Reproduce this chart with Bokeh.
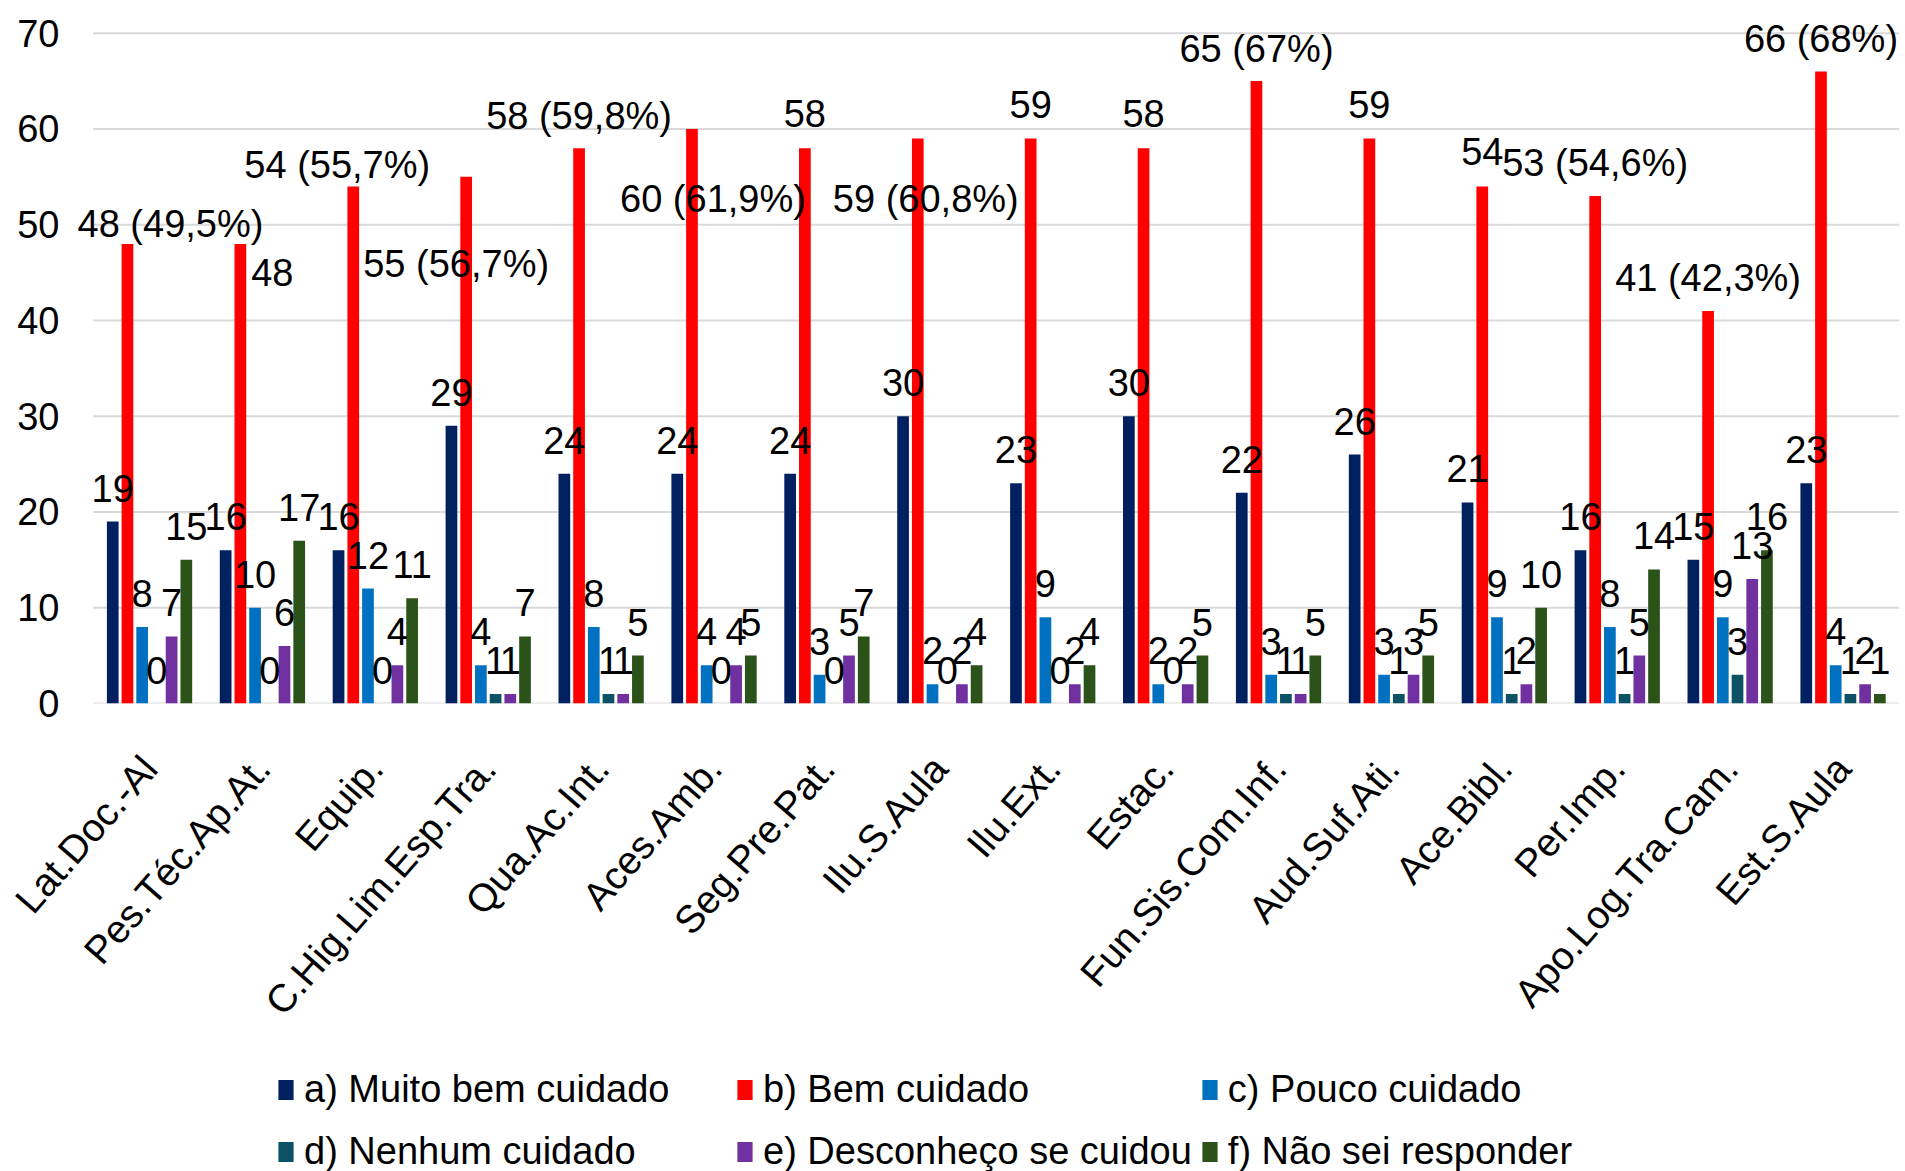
import math
from bokeh.plotting import figure
from bokeh.layouts import column
from bokeh.models import (ColumnDataSource, Legend, LegendItem, Range1d, FixedTicker, LabelSet)
from bokeh.transform import dodge
from bokeh.embed import file_html
from bokeh.resources import INLINE
from bokeh.core.properties import value

categories = ["Lat.Doc.-Al", "Pes.Téc.Ap.At.", "Equip.", "C.Hig.Lim.Esp.Tra.", "Qua.Ac.Int.",
              "Aces.Amb.", "Seg.Pre.Pat.", "Ilu.S.Aula", "Ilu.Ext.", "Estac.",
              "Fun.Sis.Com.Inf.", "Aud.Suf.Ati.", "Ace.Bibl.", "Per.Imp.",
              "Apo.Log.Tra.Cam.", "Est.S.Aula"]

muito_bem = [19, 16, 16, 29, 24, 24, 24, 30, 23, 30, 22, 26, 21, 16, 15, 23]
bem = [48, 48, 54, 55, 58, 60, 58, 59, 59, 58, 65, 59, 54, 53, 41, 66]
pouco = [8, 10, 12, 4, 8, 4, 3, 2, 9, 2, 3, 3, 9, 8, 9, 4]
nenhum = [0, 0, 0, 1, 1, 0, 0, 0, 0, 0, 1, 1, 1, 1, 3, 1]
desconheco = [7, 6, 4, 1, 1, 4, 5, 2, 2, 2, 1, 3, 2, 5, 13, 2]
nao_sei = [15, 17, 11, 7, 5, 5, 7, 4, 4, 5, 5, 5, 10, 14, 16, 1]

bem_labels = ["48 (49,5%)", "48", "54 (55,7%)", "55 (56,7%)", "58 (59,8%)", "60 (61,9%)",
              "58", "59 (60,8%)", "59", "58", "65 (67%)", "59", "54", "53 (54,6%)",
              "41 (42,3%)", "66 (68%)"]

y_ticks = [0, 10, 20, 30, 40, 50, 60, 70]

series_names = ["a) Muito bem cuidado", "b) Bem cuidado", "c) Pouco cuidado",
                "d) Nenhum cuidado", "e) Desconheço se cuidou", "f) Não sei responder"]

# styling: screen-pixel offsets of the hand-placed labels of series b (x right, y up)
bem_label_dx = [43, 32, -16, -10, 0, 21, 0, 8, 0, 0, 0, 0, 0, 0, 0, 0]
bem_label_up = [7, -42, 8, -100, 19, -83, 21, -73, 21, 21, 19, 21, 21, 20, 20, 20]
colors = ["#002060", "#FF0000", "#0070C0", "#0C5166", "#7030A0", "#2A5219"]
FONT = "Liberation Sans"
FS = "38px"

values_list = [muito_bem, bem, pouco, nenhum, desconheco, nao_sei]
keys = ["a", "b", "c", "d", "e", "f"]

n_cat = len(categories)
positions = [i + 0.5 for i in range(n_cat)]   # centre of each category slot

data = {"pos": positions, "cat": categories}
for k, vals in zip(keys, values_list):
    data[k] = vals
    data[k + "_lbl"] = [str(v) for v in vals]
data["b_lbl"] = bem_labels
data["b_dx"] = bem_label_dx
data["b_up"] = bem_label_up
source = ColumnDataSource(data)

p = figure(width=1905, height=1040, x_range=Range1d(-0.2, n_cat), y_range=Range1d(0, 73.42),
           output_backend="svg", toolbar_location=None,
           min_border_left=70, min_border_right=6, min_border_top=0, min_border_bottom=332)

# horizontal gridlines over the category span
p.segment(x0=0, x1=n_cat, y0=y_ticks, y1=y_ticks, line_color="#D9D9D9", line_width=2)

pitch = 0.1303
bw = 0.1037
renderers = []
for i, k in enumerate(keys):
    off = (i - 2.5) * pitch
    r = p.vbar(x=dodge("pos", off), top=k, width=bw, source=source,
               fill_color=colors[i], line_color=None)
    renderers.append(r)

for i, k in enumerate(keys):
    off = (i - 2.5) * pitch
    if k == "b":
        xo, yo = "b_dx", "b_up"
    else:
        xo, yo = 0, 20
    ls = LabelSet(x=dodge("pos", off), y=k, text=k + "_lbl", source=source,
                  x_offset=xo, y_offset=yo, text_align="center",
                  text_baseline="alphabetic", text_font=value(FONT),
                  text_font_size=value(FS), text_color="#000000")
    p.add_layout(ls)

p.outline_line_color = None
p.xgrid.grid_line_color = None
p.ygrid.grid_line_color = None

p.yaxis.ticker = FixedTicker(ticks=y_ticks)
p.yaxis.axis_line_color = None
p.yaxis.major_tick_line_color = None
p.yaxis.major_tick_out = 0
p.yaxis.major_tick_in = 0
p.yaxis.minor_tick_line_color = None
p.yaxis.major_label_standoff = 11
p.yaxis.major_label_text_font = FONT
p.yaxis.major_label_text_font_size = FS
p.yaxis.major_label_text_color = "#000000"

p.xaxis.ticker = FixedTicker(ticks=positions)
p.xaxis.major_label_overrides = {pos: c for pos, c in zip(positions, categories)}
p.xaxis.axis_line_color = None
p.xaxis.major_tick_line_color = None
p.xaxis.major_tick_out = 0
p.xaxis.major_tick_in = 0
p.xaxis.minor_tick_line_color = None
p.xaxis.major_label_orientation = math.radians(49)
p.xaxis.major_label_standoff = 58
p.xaxis.major_label_text_font = FONT
p.xaxis.major_label_text_font_size = "39px"
p.xaxis.major_label_text_color = "#000000"

# legend strip below the chart (its swatch renderers sit outside its visible range)
lf = figure(width=1905, height=131, x_range=Range1d(-0.2, n_cat), y_range=Range1d(1000, 1001),
            output_backend="svg", toolbar_location=None, x_axis_type=None, y_axis_type=None,
            min_border_left=70, min_border_right=6, min_border_top=0, min_border_bottom=0)
lf.outline_line_color = None
lf.grid.grid_line_color = None
leg_renderers = []
for i, k in enumerate(keys):
    off = (i - 2.5) * pitch
    leg_renderers.append(lf.vbar(x=dodge("pos", off), top=k, width=bw, source=source,
                                 fill_color=colors[i], line_color=None))
items = [LegendItem(label=n, renderers=[r]) for n, r in zip(series_names, leg_renderers)]
legend = Legend(items=items, orientation="horizontal", ncols=3, location=(206, -7),
                glyph_width=19, glyph_height=25, label_standoff=9, label_width=423,
                label_height=54, spacing=8, padding=0, margin=0,
                label_text_font=FONT, label_text_font_size="38px", label_text_color="#000000",
                border_line_color=None, background_fill_alpha=0)
lf.add_layout(legend, "center")

layout = column(p, lf, spacing=0)
open("out.html", "w").write(file_html(layout, INLINE))
